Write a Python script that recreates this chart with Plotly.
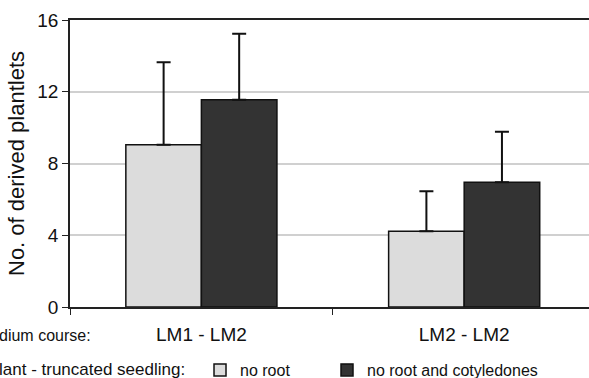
import plotly.graph_objects as go

categories = ["LM1 - LM2", "LM2 - LM2"]
no_root = [9.05, 4.22]
no_root_err = [4.6, 2.23]
no_root_cot = [11.55, 6.95]
no_root_cot_err = [3.68, 2.82]
y_ticks = [0, 4, 8, 12, 16]

FONT = "Liberation Sans, Arial, sans-serif"

fig = go.Figure()
fig.add_trace(go.Bar(
    x=categories, y=no_root, name="no root", legend="legend",
    marker=dict(color="#dcdcdc", line=dict(color="#111111", width=1.5)),
    error_y=dict(type="data", array=no_root_err, symmetric=False, arrayminus=[0, 0],
                 color="#111111", thickness=2, width=7),
))
fig.add_trace(go.Bar(
    x=categories, y=no_root_cot, name="no root and cotyledones", legend="legend2",
    marker=dict(color="#333333", line=dict(color="#111111", width=1.5)),
    error_y=dict(type="data", array=no_root_cot_err, symmetric=False, arrayminus=[0, 0],
                 color="#111111", thickness=2, width=7),
))

leg_common = dict(orientation="h", xanchor="left", yanchor="middle",
                  font=dict(size=16), bgcolor="rgba(0,0,0,0)", borderwidth=0)

fig.update_layout(
    width=589, height=378,
    margin=dict(l=70, r=0, t=20, b=71, autoexpand=False),
    paper_bgcolor="white", plot_bgcolor="white",
    font=dict(family=FONT, size=17, color="#111111"),
    barmode="group", bargap=0.425, bargroupgap=0,
    showlegend=True,
    legend=dict(x=0.2505, y=-0.2195, **leg_common),
    legend2=dict(x=0.4952, y=-0.2195, **leg_common),
    xaxis=dict(range=[-0.5, 1.475], showline=True, linecolor="#222222", linewidth=1.5,
               mirror=True, ticks="outside", tickson="boundaries", ticklen=6,
               tickcolor="#222222", showgrid=False, ticklabelstandoff=9,
               tickfont=dict(size=19)),
    yaxis=dict(range=[0, 16], tickvals=y_ticks, showline=True, linecolor="#222222",
               linewidth=1.5, ticks="outside", ticklen=6, tickcolor="#222222",
               showgrid=True, gridcolor="#d0d0d0", gridwidth=1.5, zeroline=False,
               tickfont=dict(size=19),
               title=dict(text="No. of derived plantlets", font=dict(size=22), standoff=7)),
    annotations=[
        dict(text="dium course:", xref="paper", yref="paper", x=0.0443, y=-0.0976,
             xanchor="right", yanchor="middle", showarrow=False, font=dict(size=16)),
        dict(text="lant - truncated seedling:", xref="paper", yref="paper", x=0.2254,
             y=-0.2195, xanchor="right", yanchor="middle", showarrow=False, font=dict(size=17)),
    ],
)

fig.write_html("out.html", post_script="document.body.style.margin='0';",
               config={"displayModeBar": False})
